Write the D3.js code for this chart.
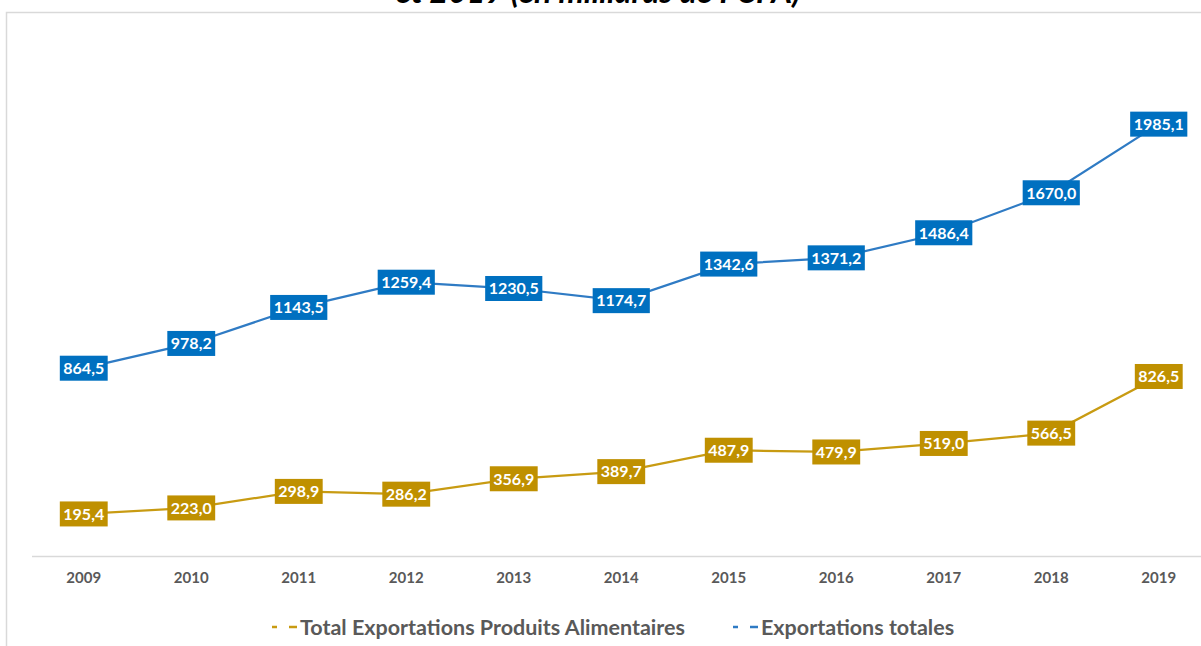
<!DOCTYPE html>
<html>
<head>
<meta charset="utf-8">
<script src="https://cdn.jsdelivr.net/npm/d3@7"></script>
<style>
  body { margin: 0; background: #fff; }
  svg { display: block; font-family: Lato, "Open Sans", sans-serif; }
</style>
</head>
<body>
<div id="chart"></div>
<script>
'use strict';

// data
const years = ["2009", "2010", "2011", "2012", "2013", "2014", "2015", "2016", "2017", "2018", "2019"];
const totalExports = [864.5, 978.2, 1143.5, 1259.4, 1230.5, 1174.7, 1342.6, 1371.2, 1486.4, 1670.0, 1985.1];
const foodExports = [195.4, 223.0, 298.9, 286.2, 356.9, 389.7, 487.9, 479.9, 519.0, 566.5, 826.5];
const seriesNames = ["Total Exportations Produits Alimentaires", "Exportations totales"];
const titleTail = "et 2019 (en milliards de FCFA)";

(function() {
  const W = 1201, H = 646;
  const margin = {top: 12, left: 30, bottom: 89};
  const plotW = 107.5 * years.length;

  const svg = d3.select("#chart").append("svg")
      .attr("width", W)
      .attr("height", H);

  // chart frame (only top and left are visible in the crop)
  svg.append("rect")
      .attr("x", 6.5).attr("y", 12.5)
      .attr("width", W + 20).attr("height", H + 20)
      .attr("fill", "none")
      .attr("stroke", "#d9d9d9")
      .attr("stroke-width", 1.5);

  // title, cut by the top edge like in the original
  svg.append("text")
      .attr("x", 598).attr("y", 3)
      .attr("text-anchor", "middle")
      .style("font-size", "32px")
      .style("font-weight", "bold")
      .style("font-style", "italic")
      .attr("fill", "#000")
      .text(titleTail);

  const x = d3.scaleBand()
      .domain(years)
      .range([margin.left, margin.left + plotW]);

  const y = d3.scaleLinear()
      .domain([0, 2500])
      .range([H - margin.bottom - 0.5, margin.top]);

  // x axis
  const xAxis = svg.append("g")
      .attr("transform", "translate(0," + y(0) + ")")
      .call(d3.axisBottom(x).tickSize(0).tickPadding(16));
  xAxis.select(".domain")
      .attr("stroke", "#d9d9d9")
      .attr("stroke-width", 1.5)
      .attr("d", "M" + (margin.left + 2) + ",0H" + (W + 10));
  xAxis.selectAll("text")
      .style("font-family", "Lato, sans-serif")
      .style("font-size", "15px")
      .style("font-weight", "bold")
      .attr("fill", "#595959");

  const series = [
    {name: seriesNames[0], values: foodExports, line: "#c89b12", box: "#bf9000"},
    {name: seriesNames[1], values: totalExports, line: "#2f7bc4", box: "#0070c0"}
  ];

  const cx = d => x(d) + x.bandwidth() / 2;
  const line = d3.line()
      .x(d => cx(d.year))
      .y(d => y(d.value));

  const fmt = v => d3.format(".1f")(v).replace(".", ",");

  series.forEach(function(s) {
    const pts = years.map((yr, i) => ({year: yr, value: s.values[i]}));

    svg.append("path")
        .datum(pts)
        .attr("d", line)
        .attr("fill", "none")
        .attr("stroke", s.line)
        .attr("stroke-width", 2.25);

    const lab = svg.append("g").selectAll("g")
        .data(pts)
        .enter().append("g")
        .attr("transform", d => "translate(" + cx(d.year) + "," + y(d.value) + ")");

    const rects = lab.append("rect").attr("fill", s.box);
    const texts = lab.append("text")
        .attr("text-anchor", "middle")
        .attr("dy", "0.36em")
        .style("font-size", "16px")
        .style("font-weight", "bold")
        .attr("fill", "#fff")
        .text(d => fmt(d.value));

    texts.each(function(d, i) {
      const w = this.getComputedTextLength() + 7;
      d3.select(rects.nodes()[i])
          .attr("x", -w / 2).attr("y", -12.5)
          .attr("width", w).attr("height", 25);
    });
  });

  // legend
  const legendPos = [272, 733];
  series.forEach(function(s, i) {
    const g = svg.append("g")
        .attr("transform", "translate(" + legendPos[i] + ",627)");
    g.append("line")
        .attr("x1", 0).attr("x2", 5)
        .attr("stroke", s.line).attr("stroke-width", 2.5);
    g.append("line")
        .attr("x1", 17).attr("x2", 25)
        .attr("stroke", s.line).attr("stroke-width", 2.5);
    g.append("text")
        .attr("x", 28)
        .attr("dy", "0.36em")
        .style("font-size", "21.5px")
        .style("font-weight", "bold")
        .attr("fill", "#595959")
        .text(s.name);
  });
})();
</script>
</body>
</html>
